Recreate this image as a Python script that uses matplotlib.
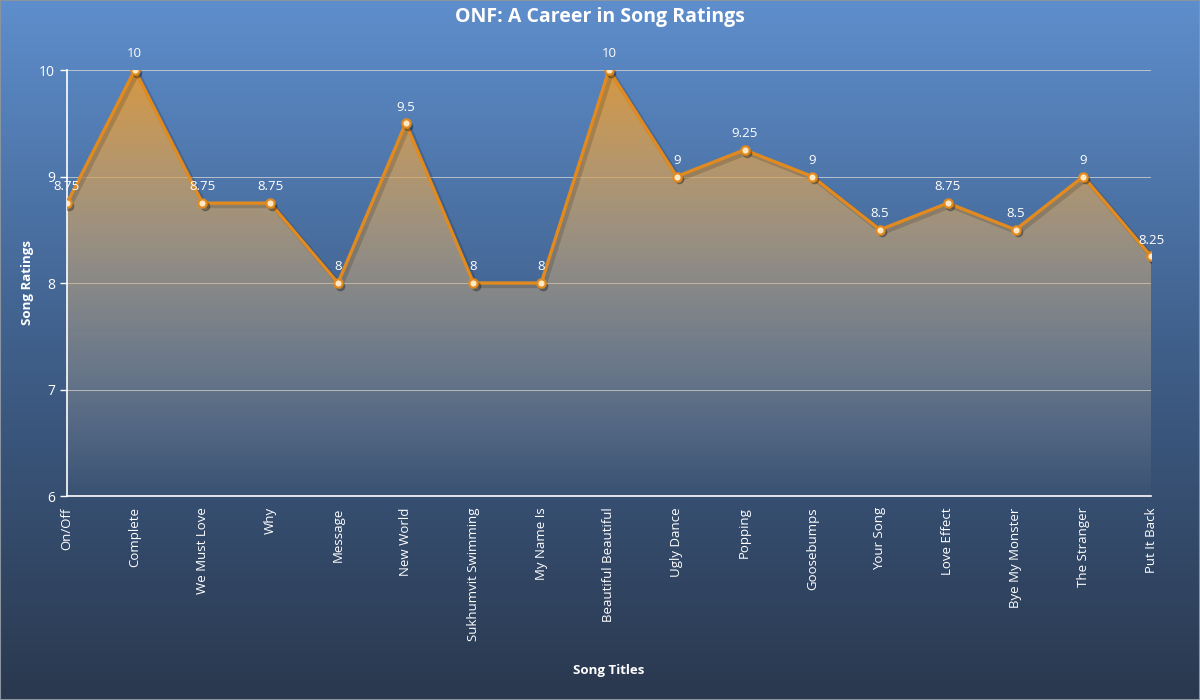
import numpy as np
import matplotlib
matplotlib.use("Agg")
import matplotlib.pyplot as plt
from matplotlib.colors import to_rgb
from matplotlib.patches import Polygon as pltPolygon

plt.rcParams['font.family'] = ['Open Sans', 'DejaVu Sans']

# data
songs = ["On/Off", "Complete", "We Must Love", "Why", "Message", "New World",
         "Sukhumvit Swimming", "My Name Is", "Beautiful Beautiful", "Ugly Dance",
         "Popping", "Goosebumps", "Your Song", "Love Effect", "Bye My Monster",
         "The Stranger", "Put It Back"]
ratings = [8.75, 10, 8.75, 8.75, 8, 9.5, 8, 8, 10, 9, 9.25, 9, 8.5, 8.75, 8.5, 9, 8.25]
labels = ["8.75", "10", "8.75", "8.75", "8", "9.5", "8", "8", "10", "9",
          "9.25", "9", "8.5", "8.75", "8.5", "9", "8.25"]

fig = plt.figure(figsize=(12, 7), dpi=100)

# background gradient
bg = fig.add_axes([0, 0, 1, 1], zorder=-10)
top = np.array(to_rgb("#5e8ecc"))
mid = np.array(to_rgb("#3f5f8a"))
bot = np.array(to_rgb("#2a384e"))
t = np.linspace(0, 1, 256)[:, None]
grad = np.where(t < 0.5, top + (mid - top) * (t / 0.5), mid + (bot - mid) * ((t - 0.5) / 0.5))
bg.imshow(grad[:, None, :].repeat(2, axis=1), aspect="auto", extent=[0, 1, 0, 1])
bg.set_xlim(0, 1)
bg.set_ylim(0, 1)
bg.axis("off")
bg.add_patch(plt.Rectangle((0, 0), 1, 1, fill=False, edgecolor="#8a94a0", lw=1.5,
                           transform=bg.transAxes))

ax = fig.add_axes([0.0558, 0.2914, 0.9034, 0.6086])
ax.patch.set_alpha(0)
x = np.arange(len(songs))
ax.set_xlim(0, len(songs) - 1)
ax.set_ylim(6, 10)

# gradient fill under the line: orange at the top, pale beige and faded at the bottom
c_top = np.array(to_rgb("#e59a33"))
c_bot = np.array(to_rgb("#cfc6b8"))
n = 256
s = np.linspace(0, 1, n)[:, None]
rgba = np.zeros((n, 2, 4))
rgba[..., :3] = (c_top + (c_bot - c_top) * s)[:, None, :]
rgba[..., 3] = np.linspace(0.9, 0.03, n)[:, None]
img = ax.imshow(rgba, aspect="auto", extent=[0, len(songs) - 1, 6, 10],
                origin="upper", zorder=1)
verts = [(0, 6)] + list(zip(x, ratings)) + [(len(songs) - 1, 6)]
clip = pltPolygon(verts, closed=True, transform=ax.transData, facecolor="none", edgecolor="none")
ax.add_patch(clip)
img.set_clip_path(clip)

# shadow + line
ax.plot(x + 0.04, np.array(ratings) - 0.025, color="black", alpha=0.15, lw=3.5, zorder=2)
ax.plot(x, ratings, color="#e08a20", lw=2.4, zorder=3, solid_joinstyle="miter")
ax.plot(x + 0.03, np.array(ratings) - 0.025, "o", color="black", alpha=0.25, ms=6, zorder=3.5)
ax.plot(x, ratings, "o", ms=6, markerfacecolor="#ffe9c4", markeredgecolor="#e08a20",
        markeredgewidth=1.6, zorder=4)

for xi, yi, lab in zip(x, ratings, labels):
    ax.annotate(lab, (xi, yi), xytext=(0, 7), textcoords="offset points", ha="center",
                va="bottom", color="white", fontsize=9.5, zorder=5)

ax.set_yticks([6, 7, 8, 9, 10])
ax.set_xticks(x)
ax.set_xticklabels(songs, rotation=90, color="white", fontsize=9.5)
ax.tick_params(axis="y", colors="white", labelsize=10, length=5, width=1)
ax.tick_params(axis="x", length=0, pad=8)
ax.grid(axis="y", color="#d8d8d8", lw=0.7, alpha=0.75)
ax.set_axisbelow(True)
for sp in ["top", "right"]:
    ax.spines[sp].set_visible(False)
ax.spines["left"].set_color("white")
ax.spines["bottom"].set_color("white")
ax.spines["left"].set_linewidth(1.2)
ax.spines["bottom"].set_linewidth(1.2)

fig.text(0.023, 0.596, "Song Ratings", color="white", fontsize=9.5, fontweight="bold",
         ha="center", va="center", rotation=90)
fig.text(0.507, 0.037, "Song Titles", color="white", fontsize=9.5, fontweight="bold", ha="center")
fig.text(0.5, 0.99, "ONF: A Career in Song Ratings", color="white", fontsize=14,
         fontweight="bold", ha="center", va="top")

fig.savefig("out.png", dpi=100)
